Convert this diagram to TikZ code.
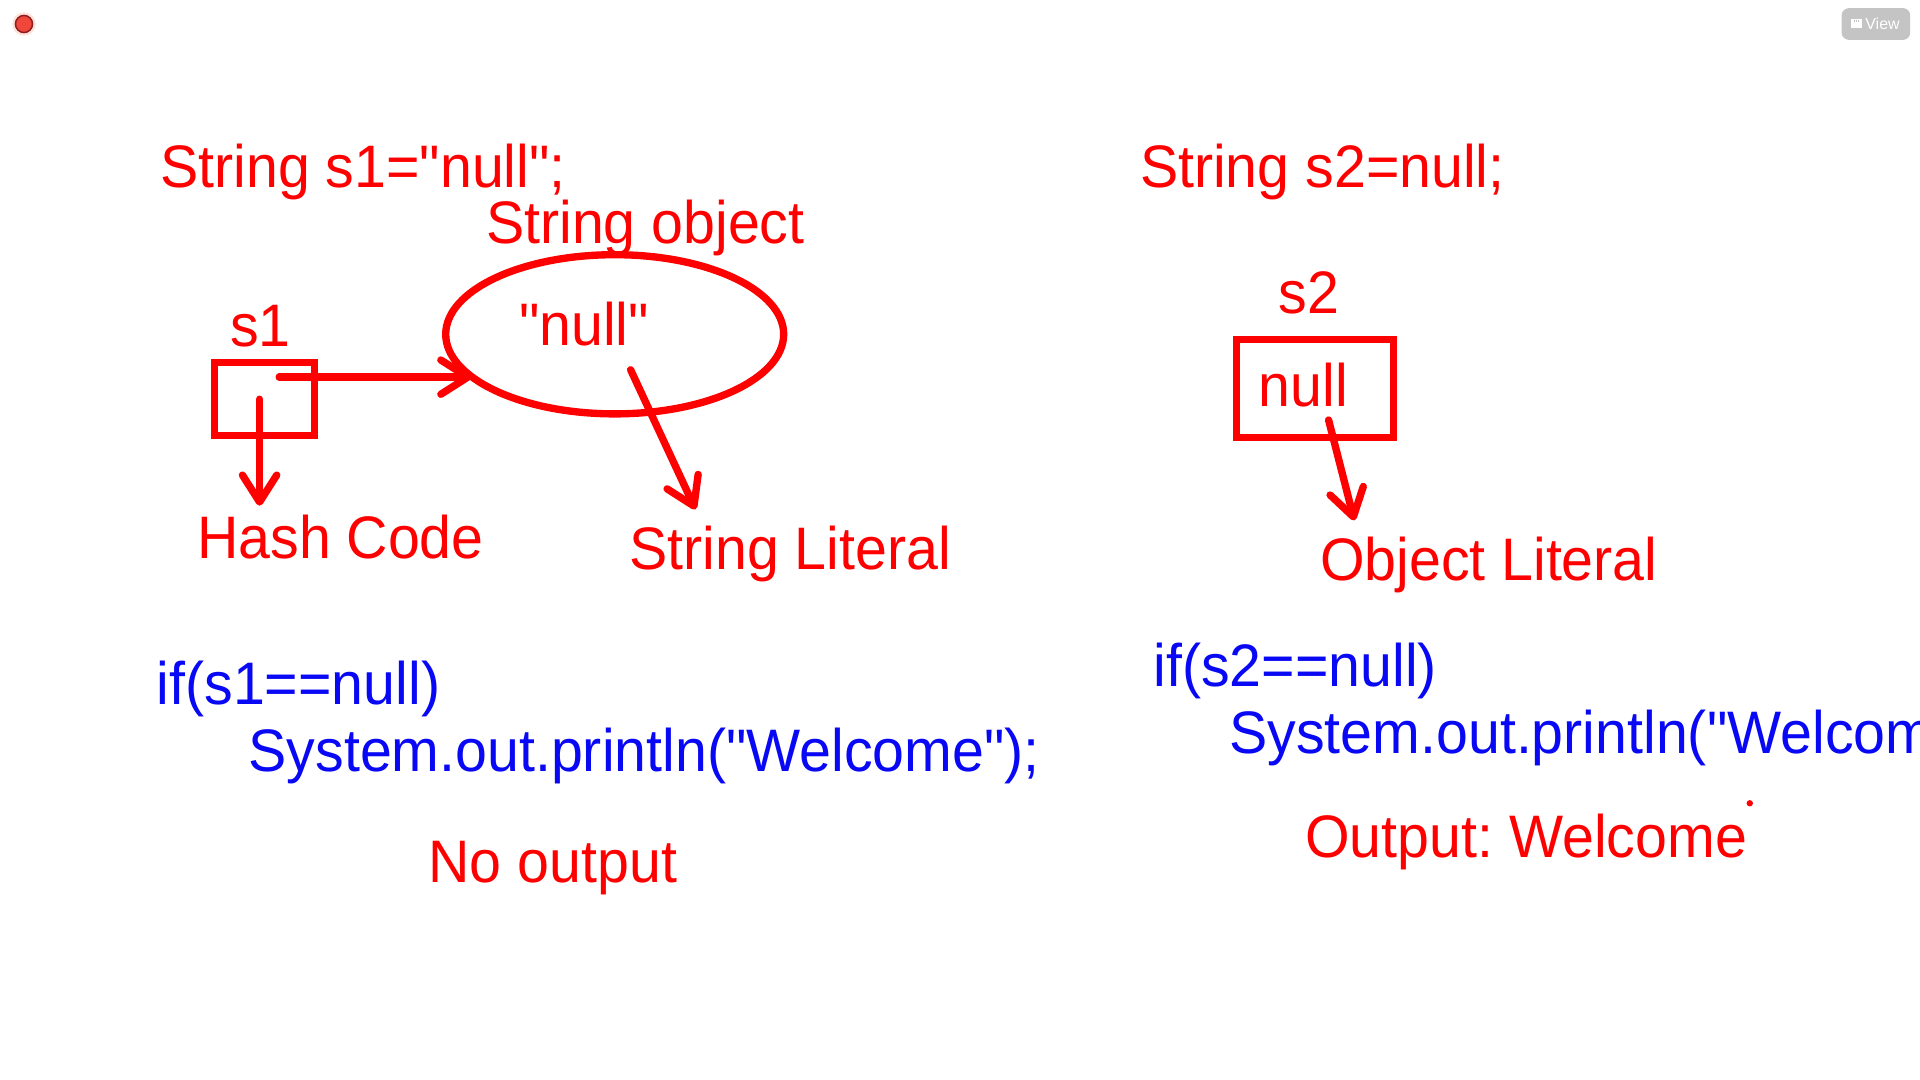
\documentclass[tikz,border=0pt]{standalone}
\usepackage{fontspec}
\setmainfont[FakeStretch=0.955,Ligatures=TeXOff]{Liberation Sans}
\newfontfamily\uifont{Liberation Sans}
\usetikzlibrary{arrows.meta}
\frenchspacing
\definecolor{inkred}{RGB}{255,0,0}
\definecolor{inkblue}{RGB}{8,8,245}
\definecolor{btngrey}{RGB}{196,196,196}
\definecolor{recred}{RGB}{240,70,60}
\definecolor{recdark}{RGB}{140,30,30}
\definecolor{recglow}{RGB}{255,200,185}
\begin{document}
\begin{tikzpicture}[x=0.5pt,y=-0.5pt,
  lbl/.style={anchor=base west,inner sep=0pt,outer sep=0pt,text=inkred,
    font=\fontsize{24.5pt}{29pt}\selectfont},
  codetext/.style={lbl,text=inkblue},
  ink/.style={draw=inkred,line width=2.8pt},
  arr/.style={ink,line width=3pt,line cap=round,
    -{Straight Barb[length=11pt,width=14pt,round]}}]
\useasboundingbox (0,0) rectangle (1568,882);
\fill[white] (0,0) rectangle (1568,882);
\begin{scope}
\clip (0,0) rectangle (1568,882);

% recording indicator and view button
\fill[recglow,opacity=0.5] (19.6,19.6) circle (9.5);
\fill[recglow] (19.6,19.6) circle (7);
\node[circle,fill=recred,draw=recdark,line width=0.6pt,minimum size=7pt,inner sep=0pt] (rec) at (19.6,19.6) {};
\node[fill=btngrey,rounded corners=3pt,minimum width=28pt,minimum height=13pt,inner sep=0pt] (viewbtn) at (1532,19.6) {};
\node[anchor=west,inner sep=0pt,text=white,font=\uifont\fontsize{6.5pt}{7pt}\selectfont] (viewtxt) at (1523,19.6) {View};
\node[fill=white,minimum width=4.5pt,minimum height=3.5pt,inner sep=0pt] (viewicon) at (1516,19.2) {};
\draw[btngrey,line width=0.4pt] (1514.4,17.6) -- (1514.4,16.6) (1516,17.6) -- (1516,16.6) (1517.6,17.6) -- (1517.6,16.6);

% left half
\node[lbl] (decl1) at (131,153) {String s1="null";};
\node[lbl] (objlbl) at (397,199) {String object};
\draw[ink,line width=3pt] (502,273) ellipse (138 and 65);
\node[draw=none,minimum width=138pt,minimum height=65pt] (obj) at (502,273) {};
\node[lbl] (nullstr) at (424,282) {"null"};
\node[lbl] (s1lbl) at (188,283) {s1};
\node[ink,minimum width=41pt,minimum height=30pt,inner sep=0pt] (box1) at (216,326) {};
\coordinate (a1s) at (228,308);
\coordinate (a1e) at (385,308);
\coordinate (a2s) at (212,326);
\coordinate (a2e) at (212,413);
\coordinate (a3s) at (515,302);
\coordinate (a3e) at (568,416);
\draw[arr] (a1s) -- (a1e);
\draw[arr] (a2s) -- (a2e);
\draw[arr] (a3s) -- (a3e);
\node[lbl] (hash) at (161,456) {Hash Code};
\node[lbl] (strlit) at (514,465) {String Literal};
\node[codetext] (if1) at (128,575) {if(s1==null)};
\node[codetext] (print1) at (203,630) {System.out.println("Welcome");};
\node[lbl] (noout) at (350,721) {No output};

% right half
\node[lbl] (decl2) at (931,153) {String s2=null;};
\node[lbl] (s2lbl) at (1044,256) {s2};
\node[ink,minimum width=64pt,minimum height=40pt,inner sep=0pt] (box2) at (1074,317) {};
\node[lbl] (nullval) at (1028,332) {null};
\coordinate (a4s) at (1085,343);
\coordinate (a4e) at (1106,425);
\draw[arr] (a4s) -- (a4e);
\node[lbl] (objlit) at (1078,474) {Object Literal};
\node[codetext] (if2) at (942,561) {if(s2==null)};
\node[codetext] (print2) at (1004,615) {System.out.println("Welcom};
\node[lbl] (out2) at (1066,700) {Output: Welcome};
\fill[inkred] (1429,656) circle (2.6) coordinate (dot);
\end{scope}
\end{tikzpicture}
\end{document}
